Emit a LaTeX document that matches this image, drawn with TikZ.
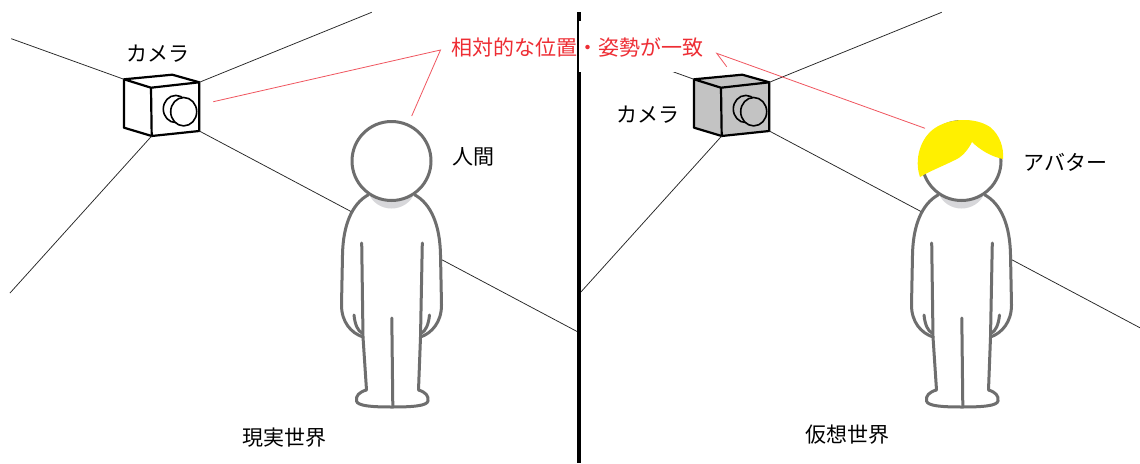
\documentclass[tikz,border=0pt]{standalone}
\usepackage{fontspec}
\setmainfont{Noto Sans CJK JP}
\definecolor{figgray}{RGB}{110,110,110}
\definecolor{neckgray}{RGB}{215,215,218}
\definecolor{camgray}{RGB}{195,195,195}
\definecolor{hairyellow}{RGB}{255,240,0}
\definecolor{cuered}{RGB}{238,45,52}
\definecolor{cueline}{RGB}{240,85,95}

% camera box: #1 = name prefix, #2 = body colour
\newcommand\cameraunit[2]{%
  \coordinate (#1-a) at (124,79.3);
  \coordinate (#1-b) at (172.3,74.7);
  \coordinate (#1-c) at (199.3,82.3);
  \coordinate (#1-d) at (151,87.7);
  \coordinate (#1-e) at (124,127.7);
  \coordinate (#1-f) at (151.7,136);
  \coordinate (#1-g) at (199.3,131);
  \draw[camline, fill=#2] (#1-a) -- (#1-b) -- (#1-c) -- (#1-g) -- (#1-f) -- (#1-e) -- cycle;
  \draw[camline] (#1-a) -- (#1-d) -- (#1-c) (#1-d) -- (#1-f);
  \draw[lensline, fill=#2] (175.8,109) ellipse[x radius=12.5, y radius=13.6];
  \draw[lensline, fill=#2] (183.7,111.7) ellipse[x radius=13, y radius=14.2];
}

% standing figure seen from the front
\newcommand\personfigure{%
  \draw[figline, fill=white] (368,195) .. controls (352,204) and (343,225) .. (342.5,255)
    -- (341.5,305) .. controls (341.5,322) and (351,333) .. (363,337)
    -- (366.5,390) .. controls (359,392) and (355.5,396) .. (356.5,401)
    .. controls (357.5,406) and (372,407) .. (392,407)
    .. controls (412,407) and (427,406) .. (428,401)
    .. controls (429,396) and (425.5,392) .. (418.5,390)
    -- (420.5,337) .. controls (432,333) and (441.5,322) .. (441.5,305)
    -- (440.5,255) .. controls (440,225) and (431,204) .. (415,195);
  \fill[neckgray] (368,192) .. controls (376,214) and (407,214) .. (415,192) -- cycle;
  \draw[figline] (361.7,243) -- (363,337);
  \draw[figline] (422.3,243) -- (420.5,337);
  \draw[figline] (354,315) .. controls (355,325) and (358,331) .. (362,333);
  \draw[figline] (429.5,315) .. controls (428.5,325) and (425.5,331) .. (421.5,333);
  \draw[figline] (391.8,318) -- (392.8,406);
  \draw[figline, fill=white] (391.5,161) circle[radius=39.5];
}

\begin{document}
\begin{tikzpicture}[x=1pt,y=-1pt,
  ray/.style={line width=0.75pt, draw=black!85},
  cue/.style={line width=0.8pt, draw=cueline},
  camline/.style={line width=2.2pt, line join=round},
  lensline/.style={line width=1.6pt},
  figline/.style={line width=3pt, draw=figgray, line cap=round, line join=round},
  lbl/.style={font=\fontsize{21}{25}\selectfont, inner sep=0pt, anchor=center},
]
\useasboundingbox (0,0) rectangle (1140,463);
\fill[white] (0,0) rectangle (1140,463);

% cameras
\cameraunit{L}{white}
\begin{scope}[shift={(570,0)}]
  \cameraunit{R}{camgray}
\end{scope}

% far ends of the viewing rays
\coordinate (L-fa) at (11.3,38.7);
\coordinate (L-fc) at (371.7,12.3);
\coordinate (L-ff) at (10,293);
\coordinate (L-fg) at (578,332);
\coordinate (R-fa) at (581.3,38.7);
\coordinate (R-fc) at (941.7,12.3);
\coordinate (R-ff) at (580,293);
\coordinate (R-fg) at (1140,327.8);

\foreach \s in {L,R}{
  \draw[ray] (\s-a) -- (\s-fa);
  \draw[ray] (\s-c) -- (\s-fc);
  \draw[ray] (\s-f) -- (\s-ff);
  \draw[ray] (\s-g) -- (\s-fg);
}

% divider between the two worlds
\coordinate (divTop) at (579.3,12);
\coordinate (divBot) at (579.3,463);
\draw[line width=4pt] (divTop) -- (divBot);

% human and avatar
\personfigure
\begin{scope}[shift={(570,0)}]
  \personfigure
  \fill[hairyellow] (350,177) .. controls (344,160) and (350,138) .. (365,128)
    .. controls (380,118) and (405,117) .. (420,127)
    .. controls (430,135) and (434,148) .. (433,159)
    .. controls (422,157) and (410,150) .. (402,142)
    .. controls (398,150) and (392,157) .. (385,160)
    .. controls (373,166) and (360,171) .. (350,177) -- cycle;
\end{scope}

% caption with its backing
\fill[white] (579,21) rectangle (725,72);
\node[lbl, text=cuered] (match) at (577,47.5) {相対的な位置・姿勢が一致};

\coordinate (cueL) at (440.5,50);
\coordinate (cueR) at (716.7,53.3);
\coordinate (cueCamL) at (213.3,101.7);
\coordinate (cueHead) at (411.7,116);
\coordinate (cueCamR) at (726.7,66.7);
\coordinate (cueAvatar) at (925,128.3);
\draw[cue] (cueCamL) -- (cueL) -- (cueHead);
\draw[cue] (cueCamR) -- (cueR) -- (cueAvatar);

% labels
\node[lbl] (camL) at (157.5,53.5) {カメラ};
\node[lbl] (human) at (473.6,156.7) {人間};
\node[lbl] (camR) at (647.5,114.7) {カメラ};
\node[lbl] (avatar) at (1065.5,162.5) {アバター};
\node[lbl] (real) at (284,437.5) {現実世界};
\node[lbl] (virt) at (847.5,435) {仮想世界};
\end{tikzpicture}
\end{document}
